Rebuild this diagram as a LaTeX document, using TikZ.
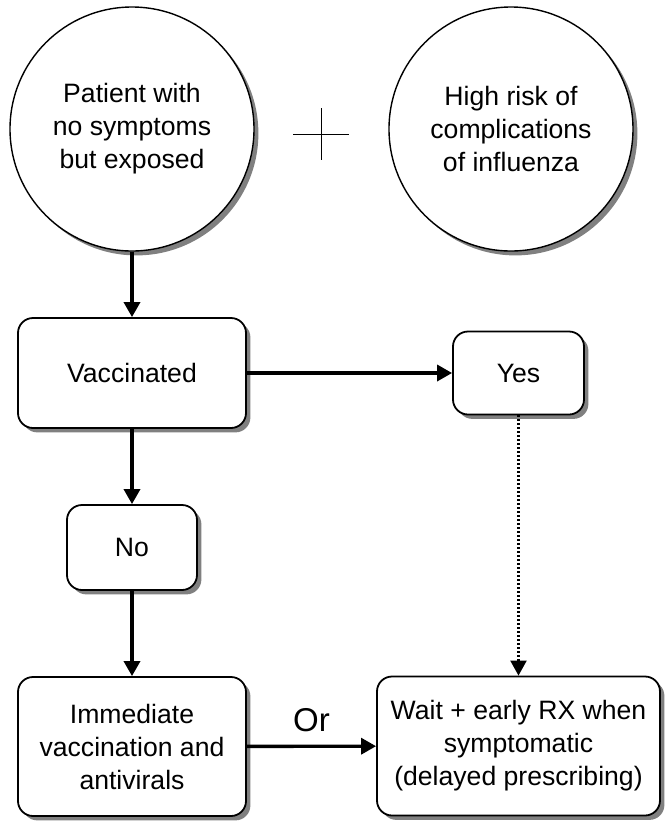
\documentclass[tikz,border=0pt]{standalone}
\usepackage{fontspec}
\setmainfont{Liberation Sans}
\usetikzlibrary{arrows.meta,positioning,shadows}

\begin{document}
\begin{tikzpicture}[x=0.5pt,y=-0.5pt,on grid,
  font=\fontsize{13.3}{16.5}\selectfont,
  drop/.style={drop shadow={shadow xshift=2.2pt,shadow yshift=-2.2pt,fill=black!50,opacity=1}},
  ball/.style={circle,draw,line width=0.7pt,fill=white,minimum size=122pt,inner sep=0pt,align=center,drop},
  box/.style={rectangle,rounded corners=7.5pt,draw,line width=0.9pt,fill=white,align=center,drop},
  link/.style={-{Triangle[length=7.5pt,width=8pt]},line width=1.7pt}]
  \useasboundingbox (0,0) rectangle (667,832);
  \node[ball]           (pat)                  at (132,129) {Patient with\\no symptoms\\but exposed};
  \node[ball]           (risk) [right=189.5pt of pat]   {High risk of\\complications\\of influenza};
  \coordinate           (plus)                 at (321,134);
  \node[box,minimum width=114pt,minimum height=55pt]     (vac)  [below=122pt of pat]    {Vaccinated};
  \node[box,minimum width=65.5pt,minimum height=41.5pt]  (yes)  [right=193.25pt of vac] {Yes};
  \node[box,minimum width=65pt,minimum height=42.5pt]    (no)   [below=87.25pt of vac]  {No};
  \node[box,minimum width=114pt,minimum height=69.5pt]   (now)  [below=99.5pt of no]    {Immediate\\vaccination and\\antivirals};
  \node[box,minimum width=141.5pt,minimum height=69.5pt] (wait) [below=186.5pt of yes]  {Wait + early RX when\\symptomatic\\(delayed prescribing)};
  % plus sign between the circles
  \draw[line width=0.5pt] ([xshift=-14pt]plus) -- ([xshift=14pt]plus)
                          ([yshift=13pt]plus) -- ([yshift=-13pt]plus);
  \path[link] (pat) edge (vac)
              (vac) edge (yes)
              (vac) edge (no)
              (no)  edge (now)
              (now) edge node [above=6.5pt,inner sep=0pt,font=\fontsize{16.5}{18}\selectfont] {Or} (wait);
  \draw[link,line width=1.1pt,dash pattern=on 1pt off 1pt] (yes) -- (yes |- wait.north);
\end{tikzpicture}
\end{document}
